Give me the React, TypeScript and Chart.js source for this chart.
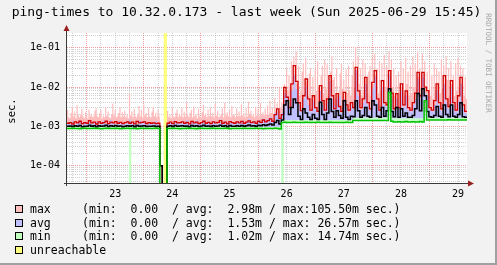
import { useEffect, useRef } from 'react';
import { Chart, registerables } from 'chart.js';

Chart.register(...registerables);

// ---- time axis: hours after 2025-06-22 00:00 ----
const START_HOUR = 15.75;
const END_HOUR = 183.75;
const SLOT_HOURS = 1; // lines and avg/min bands: one value per hour
const FINE_SLOT_HOURS = 0.5; // max band and unreachable flags: one value per half hour

const dayLabels = ['23', '24', '25', '26', '27', '28', '29'];
const dayLabelHours = [36, 60, 84, 108, 132, 156, 180];

const yTickValues = [1e-4, 1e-3, 1e-2, 1e-1];
const yTickLabels = ['1e-04', '1e-03', '1e-02', '1e-01'];
const Y_MIN = 3.63e-5;
const Y_MAX = 0.2366;

const TITLE = 'ping-times to 10.32.0.173 - last week (Sun 2025-06-29 15:45)';
const UNIT = 'sec.';
const WATERMARK = 'RRDTOOL / TOBI OETIKER';

const legendNames = ['max', 'avg', 'min', 'unreachable'];
const legendStats = [
  '(min:  0.00  / avg:  2.98m / max:105.50m sec.)',
  '(min:  0.00  / avg:  1.53m / max: 26.57m sec.)',
  '(min:  0.00  / avg:  1.02m / max: 14.74m sec.)',
  '',
];
const legendColors = ['#FFC0C0', '#C0C0FF', '#C0FFC0', '#FFFF80'];

// ---- max band top, ms, one value per half hour (336 values) ----
const maxAreaMs = [
  2.6, 1.7, 1.6, 2.2, 3.0, 1.8, 2.4, 1.6, 3.4, 2.0, 1.7, 2.0, 2.8, 1.8, 1.6, 2.3, 1.9, 1.6, 2.7, 1.8, 2.1, 1.7, 1.8, 2.5,
  2.9, 1.8, 1.7, 2.2, 2.6, 1.6, 1.9, 1.7, 3.1, 1.8, 2.4, 1.7, 1.6, 2.0, 3.8, 1.9, 2.6, 1.7, 1.8, 2.2, 3.0, 1.7, 2.3, 1.8,
  2.5, 1.7, 2.0, 1.6, 6.8, 1.9, 2.4, 1.7, 2.8, 1.8, 1.7, 2.1, 3.3, 1.8, 2.6, 1.7, 3.6, 1.9, 2.2, 1.7, 2.9, 1.8, 1.7, 2.4,
  3.1, 1.8, 2.2, 1.7, 2.6, 1.8, 0, 0, 0, 0, 0, 0, 2.5, 1.7, 2.0, 1.6, 3.0, 1.8, 1.7, 2.2, 2.7, 1.7, 2.1, 1.8,
  2.9, 1.7, 2.4, 1.8, 4.1, 1.9, 1.7, 2.2, 2.6, 1.7, 3.2, 1.8, 2.0, 1.6, 2.8, 1.8, 1.7, 2.3, 3.5, 1.9, 2.1, 1.7, 2.7, 1.8,
  3.0, 1.8, 2.2, 1.7, 3.8, 1.9, 2.5, 1.7, 1.8, 2.1, 2.9, 1.7, 4.0, 1.9, 2.3, 1.8, 2.6, 1.7, 3.3, 1.9, 2.0, 1.7, 2.8, 1.8,
  2.4, 1.8, 3.6, 1.9, 2.2, 1.7, 2.9, 1.8, 4.2, 2.0, 2.5, 1.8, 2.1, 1.7, 3.1, 1.9, 2.7, 1.8, 3.9, 2.0, 2.3, 1.9, 2.8, 2.0,
  3.4, 2.0, 4.5, 2.2, 3.0, 2.1, 5.2, 2.4, 3.8, 2.6, 9.0, 3.0, 4.0, 2.8, 12, 5.0, 30, 8.0, 20, 9.0, 45, 12, 60, 15,
  80, 12, 35, 6, 8, 25, 40, 7, 55, 14, 6, 22, 30, 5, 18, 6, 28, 8, 45, 10, 6, 20, 35, 7,
  50, 9, 38, 6, 7, 25, 60, 15, 18, 5, 30, 6, 8, 22, 40, 9, 15, 5, 28, 7, 35, 8, 6, 20,
  45, 10, 105, 25, 60, 12, 30, 6, 50, 8, 40, 12, 7, 25, 35, 6, 55, 12, 70, 20, 30, 7, 45, 8,
  40, 10, 65, 9, 35, 8, 80, 22, 50, 10, 30, 6, 20, 5, 25, 7, 45, 9, 30, 6, 55, 12, 25, 6,
  35, 7, 60, 10, 40, 9, 75, 18, 30, 10, 70, 16, 45, 10, 25, 8, 35, 6, 20, 5, 40, 8, 30, 12,
  25, 7, 50, 9, 35, 7, 60, 15, 30, 6, 45, 12, 20, 6, 40, 8, 55, 10, 35, 12, 30, 6, 18, 5,
];

// ---- hourly series, ms (168 values each) ----
const avgAreaMs = [
  1.20, 1.15, 1.35, 1.12, 1.25, 1.40, 1.10, 1.30, 1.18, 1.45, 1.15, 1.25,
  1.30, 1.12, 1.22, 1.38, 1.15, 1.28, 1.45, 1.20, 1.12, 1.35, 1.18, 1.25,
  1.15, 1.32, 1.50, 1.20, 1.28, 1.12, 1.40, 1.22, 1.35, 1.15, 1.30, 1.18,
  1.25, 1.35, 1.20, 0, 0, 0, 1.20, 1.30, 1.15, 1.38, 1.22, 1.28,
  1.35, 1.18, 1.45, 1.15, 1.30, 1.22, 1.40, 1.15, 1.28, 1.48, 1.20, 1.32,
  1.22, 1.38, 1.25, 1.15, 1.50, 1.28, 1.35, 1.18, 1.42, 1.25, 1.20, 1.36,
  1.25, 1.40, 1.22, 1.32, 1.55, 1.28, 1.38, 1.22, 1.45, 1.30, 1.60, 1.40,
  1.55, 1.70, 1.50, 2.2, 2.4, 1.7, 2.2, 7.0, 6.0, 3.0, 8.0, 20,
  9.0, 3.5, 2.5, 5.0, 10, 3.5, 2.4, 4.5, 2.8, 2.2, 8.0, 3.5,
  2.4, 4.0, 14, 5.0, 3.5, 5.0, 6.0, 2.2, 5.0, 3.0, 2.3, 3.5,
  2.8, 26.6, 6.0, 2.6, 4.0, 12, 3.5, 2.5, 9.0, 18, 4.0, 2.4,
  10, 3.5, 3.0, 20, 5.0, 2.5, 5.0, 2.8, 8.0, 3.0, 6.0, 2.6,
  2.4, 3.5, 5.0, 16, 5.0, 18, 7.0, 6.0, 2.6, 2.4, 3.5, 8.0,
  3.5, 2.5, 12, 4.0, 2.8, 10, 3.5, 2.4, 4.5, 12, 3.0, 2.2,
];

const minAreaMs = [
  0.97, 0.97, 0.97, 0.97, 0.97, 0.97, 0.97, 0.97, 0.97, 0.97, 0.97, 0.97,
  0.97, 0.97, 0.97, 0.97, 0.97, 0.97, 0.97, 0.97, 0.97, 0.97, 0.97, 0.97,
  0.97, 0.97, 0.97, 0.97, 0.97, 0.97, 0.97, 0.97, 0.97, 0.97, 0.97, 0.97,
  0.97, 0.97, 0.97, 0, 0, 0, 0.97, 0.97, 0.97, 0.97, 0.97, 0.97,
  0.97, 0.97, 0.97, 0.97, 0.97, 0.97, 0.97, 0.97, 0.97, 0.97, 0.97, 0.97,
  0.97, 0.97, 0.97, 0.97, 0.97, 0.97, 0.97, 0.97, 0.97, 0.97, 0.97, 0.97,
  0.97, 0.97, 0.97, 0.97, 0.97, 0.97, 0.97, 0.97, 0.97, 0.97, 0.97, 0.97,
  0.97, 0.97, 0.97, 0.97, 0.97, 0.97, 1.45, 1.45, 1.45, 1.45, 1.45, 1.45,
  1.45, 1.45, 1.45, 1.45, 1.45, 1.45, 1.45, 1.45, 1.45, 1.45, 1.45, 1.45,
  1.45, 1.45, 1.45, 1.45, 1.45, 1.45, 1.45, 1.45, 1.45, 1.45, 1.45, 1.45,
  1.65, 1.65, 1.65, 1.65, 1.65, 1.65, 1.65, 1.65, 1.65, 1.65, 1.65, 1.65,
  1.65, 1.65, 1.65, 7.6, 1.6, 1.6, 1.6, 1.6, 1.6, 1.6, 1.6, 1.6,
  1.6, 1.6, 1.6, 1.6, 1.6, 1.6, 4.8, 1.65, 1.65, 1.65, 1.65, 1.65,
  1.65, 1.65, 1.65, 1.65, 1.65, 1.65, 1.65, 1.65, 1.65, 1.65, 1.65, 1.65,
];

const maxLineMs = [
  1.20, 1.25, 1.15, 1.30, 1.22, 1.35, 1.18, 1.25, 1.20, 1.40, 1.22, 1.28,
  1.15, 1.30, 1.20, 1.25, 1.35, 1.18, 1.28, 1.22, 1.32, 1.20, 1.26, 1.18,
  1.24, 1.30, 1.20, 1.28, 1.16, 1.34, 1.22, 1.26, 1.30, 1.18, 1.24, 1.20,
  1.22, 1.18, 1.20, 0.10, 0, 0, 1.20, 1.28, 1.18, 1.32, 1.22, 1.25,
  1.30, 1.20, 1.26, 1.16, 1.34, 1.22, 1.28, 1.18, 1.25, 1.35, 1.20, 1.26,
  1.18, 1.30, 1.22, 1.26, 1.40, 1.20, 1.28, 1.16, 1.32, 1.24, 1.20, 1.30,
  1.22, 1.34, 1.20, 1.28, 1.38, 1.25, 1.30, 1.20, 1.35, 1.26, 1.45, 1.30,
  1.40, 1.55, 1.35, 2.0, 2.8, 1.6, 2.0, 9.8, 5.5, 3.0, 12, 35,
  14, 4.0, 2.5, 6.0, 16, 5.0, 2.6, 6.0, 3.0, 2.4, 10.8, 4.5,
  2.6, 5.0, 19.5, 6.0, 2.8, 6.8, 3.2, 2.4, 7.3, 3.5, 2.6, 4.0,
  3.0, 31.6, 8.0, 3.0, 5.0, 17.6, 4.0, 2.8, 13.1, 26, 5.0, 2.6,
  14.5, 4.0, 3.5, 26, 7.0, 2.8, 6.8, 3.0, 12, 3.5, 8.0, 3.0,
  2.6, 4.0, 7.0, 23.6, 6.0, 23.6, 10, 8.1, 3.0, 2.6, 4.5, 12,
  4.0, 2.8, 19.5, 5.0, 3.2, 14.5, 4.0, 2.6, 6.0, 17.6, 3.5, 2.4,
];

const avgLineMs = [
  1.00, 1.02, 0.99, 1.03, 1.00, 1.05, 0.98, 1.01, 1.00, 1.06, 1.00, 1.03,
  0.98, 1.04, 1.00, 1.02, 1.06, 0.99, 1.03, 1.00, 1.05, 1.00, 1.02, 0.98,
  1.01, 1.04, 1.00, 1.03, 0.98, 1.05, 1.00, 1.02, 1.04, 0.99, 1.01, 1.00,
  1.02, 0.99, 1.00, 0.10, 0, 0, 1.00, 1.03, 0.99, 1.05, 1.01, 1.02,
  1.04, 1.00, 1.02, 0.98, 1.05, 1.00, 1.03, 0.99, 1.02, 1.06, 1.00, 1.02,
  0.99, 1.04, 1.00, 1.02, 1.07, 1.00, 1.03, 0.98, 1.05, 1.01, 1.00, 1.04,
  1.00, 1.05, 1.01, 1.03, 1.08, 1.02, 1.04, 1.00, 1.06, 1.03, 1.10, 1.05,
  1.10, 1.15, 1.08, 1.25, 1.40, 1.15, 1.45, 3.5, 4.5, 2.0, 3.0, 5.0,
  4.0, 1.8, 1.5, 2.8, 2.2, 1.7, 1.5, 2.0, 1.6, 1.5, 4.1, 2.0,
  1.5, 2.2, 5.0, 2.4, 1.7, 2.5, 1.9, 1.6, 4.5, 1.7, 1.5, 1.8,
  1.75, 4.5, 2.5, 1.7, 1.9, 3.0, 1.8, 1.7, 4.5, 3.5, 1.8, 1.7,
  3.0, 1.8, 2.5, 9.1, 2.4, 1.75, 3.0, 1.7, 2.8, 1.8, 2.2, 1.7,
  1.7, 1.9, 2.8, 6.8, 2.5, 9.0, 6.0, 2.4, 1.75, 1.7, 1.9, 3.2,
  1.8, 1.7, 3.5, 2.0, 1.75, 3.5, 1.8, 1.7, 2.0, 4.0, 1.75, 1.7,
];

const minLineMs = [
  0.88, 0.88, 0.89, 0.88, 0.88, 0.87, 0.88, 0.89, 0.88, 0.88, 0.88, 0.89,
  0.88, 0.88, 0.87, 0.88, 0.89, 0.88, 0.88, 0.88, 0.89, 0.88, 0.87, 0.88,
  0.88, 0.89, 0.88, 0.88, 0.88, 0.87, 0.88, 0.89, 0.88, 0.88, 0.88, 0.88,
  0.88, 0.89, 0.88, 0, 0, 0, 0.88, 0.88, 0.89, 0.88, 0.88, 0.87,
  0.88, 0.88, 0.89, 0.88, 0.88, 0.88, 0.87, 0.88, 0.89, 0.88, 0.88, 0.88,
  0.88, 0.89, 0.88, 0.88, 0.88, 0.88, 0.89, 0.88, 0.87, 0.88, 0.88, 0.88,
  0.88, 0.88, 0.89, 0.88, 0.88, 0.88, 0.88, 0.89, 0.88, 0.88, 0.87, 0.88,
  0.88, 0.88, 0.88, 0.89, 0.88, 0.86, 1.25, 1.28, 1.25, 1.26, 1.25, 1.27,
  1.25, 1.26, 1.25, 1.25, 1.27, 1.25, 1.26, 1.25, 1.25, 1.28, 1.26, 1.25,
  1.25, 1.26, 1.27, 1.25, 1.25, 1.26, 1.25, 1.26, 1.25, 1.27, 1.25, 1.26,
  1.40, 1.41, 1.40, 1.42, 1.40, 1.40, 1.41, 1.40, 1.42, 1.40, 1.41, 1.40,
  1.40, 1.41, 1.40, 7.3, 1.35, 1.30, 1.30, 1.31, 1.30, 1.30, 1.32, 1.30,
  1.30, 1.31, 1.30, 1.30, 1.32, 1.30, 4.5, 1.45, 1.45, 1.46, 1.45, 1.45,
  1.45, 1.46, 1.45, 1.45, 1.47, 1.45, 1.45, 1.46, 1.45, 1.45, 1.46, 1.45,
];

// hourly slots where the min band reached 0; half-hour slots that were unreachable
const minZeroSlots = [26, 90];
const unreachableSlots = [81, 82, 83];

// ---- helpers to build the Chart.js tables ----
const ZERO_ON_LOG = 1e-9; // 0 s drawn at the bottom of the log axis
const FULL_HEIGHT = 1; // 1 s: above the top of the axis
const toSec = (ms: number) => (ms > 0 ? ms / 1000 : ZERO_ON_LOG);

function slotSeries(ms: number[], slot: number) {
  const pts = ms.map((v, i) => ({ x: START_HOUR + i * slot, y: toSec(v) }));
  pts.push({ x: START_HOUR + ms.length * slot, y: toSec(ms[ms.length - 1]) });
  return pts;
}

function flagSeries(slots: number[], slot: number) {
  const pts: { x: number; y: number | null }[] = [];
  slots.forEach((s, k) => {
    if (k > 0 && slots[k - 1] !== s - 1) {
      pts.push({ x: START_HOUR + (slots[k - 1] + 1) * slot, y: FULL_HEIGHT });
      pts.push({ x: START_HOUR + (slots[k - 1] + 1) * slot, y: null });
    }
    pts.push({ x: START_HOUR + s * slot, y: FULL_HEIGHT });
  });
  if (slots.length) pts.push({ x: START_HOUR + (slots[slots.length - 1] + 1) * slot, y: FULL_HEIGHT });
  return pts;
}

const minLowMs = minLineMs.map((v, i) => (minZeroSlots.includes(i) ? 0 : v));

const FONT = '"DejaVu Sans Mono", monospace';
const MAJOR_GRID = 'rgba(230, 60, 60, 0.5)';
const MINOR_GRID = 'rgba(170, 170, 170, 0.55)';
const AXIS = '#3a3a3a';
const ARROW = '#9a1e1e';

const rrdPlugin = {
  id: 'rrdLook',
  beforeDraw(chart: any) {
    const { ctx, width, height, chartArea: a } = chart;
    ctx.save();
    ctx.fillStyle = '#F2F2F2';
    ctx.fillRect(0, 0, width, height);
    ctx.fillStyle = '#A0A0A0';
    ctx.fillRect(width - 2, 0, 2, height);
    ctx.fillRect(0, height - 2, width, 2);
    ctx.fillStyle = '#FFFFFF';
    ctx.fillRect(a.left, a.top, a.right - a.left, a.bottom - a.top);
    ctx.restore();
  },
  afterDraw(chart: any) {
    const { ctx, chartArea: a, width } = chart;
    ctx.save();
    // axes
    ctx.strokeStyle = AXIS;
    ctx.lineWidth = 1;
    ctx.beginPath();
    ctx.moveTo(a.left - 0.5, a.bottom + 3);
    ctx.lineTo(a.left - 0.5, a.top - 4);
    ctx.moveTo(a.left - 3, a.bottom + 0.5);
    ctx.lineTo(a.right + 3, a.bottom + 0.5);
    ctx.stroke();
    ctx.fillStyle = ARROW;
    ctx.beginPath();
    ctx.moveTo(a.left - 0.5, a.top - 8);
    ctx.lineTo(a.left - 3.5, a.top - 2);
    ctx.lineTo(a.left + 2.5, a.top - 2);
    ctx.closePath();
    ctx.fill();
    ctx.beginPath();
    ctx.moveTo(a.right + 7, a.bottom + 0.5);
    ctx.lineTo(a.right + 1, a.bottom - 2.5);
    ctx.lineTo(a.right + 1, a.bottom + 3.5);
    ctx.closePath();
    ctx.fill();

    // title
    ctx.fillStyle = '#000';
    ctx.textBaseline = 'middle';
    ctx.textAlign = 'center';
    ctx.font = `13px ${FONT}`;
    ctx.fillText(TITLE, 246.5, 13);

    // unit
    ctx.save();
    ctx.translate(12, 111);
    ctx.rotate(-Math.PI / 2);
    ctx.font = `10.5px ${FONT}`;
    ctx.fillText(UNIT, 0, 0);
    ctx.restore();

    // watermark
    ctx.save();
    ctx.translate(width - 9, 63);
    ctx.rotate(Math.PI / 2);
    ctx.fillStyle = '#A8A8A8';
    ctx.font = `7.5px ${FONT}`;
    ctx.fillText(WATERMARK, 0, 0);
    ctx.restore();

    // legend
    ctx.textAlign = 'left';
    ctx.font = `11.5px ${FONT}`;
    const rows = [210, 223.7, 237.4, 251];
    legendNames.forEach((name, k) => {
      const y = rows[k];
      ctx.fillStyle = legendColors[k];
      ctx.fillRect(15, Math.round(y) - 5, 8, 8);
      ctx.strokeStyle = '#000';
      ctx.lineWidth = 1;
      ctx.strokeRect(15.5, Math.round(y) - 4.5, 7, 7);
      ctx.fillStyle = '#000';
      ctx.fillText(name, 30, y);
      if (legendStats[k]) ctx.fillText(legendStats[k], 82, y);
    });
    ctx.restore();
  },
};

export default function App() {
  const ref = useRef<HTMLCanvasElement | null>(null);

  useEffect(() => {
    document.body.style.margin = '0';
    const canvas = ref.current;
    if (!canvas) return;

    const xGridHours: number[] = [];
    for (let h = 18; h < END_HOUR; h += 6) xGridHours.push(h);
    const yGridValues: number[] = [];
    for (let e = -5; e <= -1; e++) {
      for (let m = 1; m <= 9; m++) {
        const v = m * Math.pow(10, e);
        if (v >= Y_MIN && v <= Y_MAX) yGridValues.push(v);
      }
    }
    const isDecade = (v: number) => yTickValues.some((t) => Math.abs(t - v) / t < 1e-6);

    const line = (data: any, color: string, width: number, order: number) => ({
      data,
      borderColor: color,
      borderWidth: width,
      backgroundColor: 'transparent',
      fill: false,
      stepped: true,
      pointRadius: 0,
      order,
    });
    const area = (data: any, color: string, target: any, order: number) => ({
      data,
      borderColor: 'transparent',
      borderWidth: 0,
      backgroundColor: color,
      fill: target,
      stepped: true,
      pointRadius: 0,
      order,
    });

    const chart = new Chart(canvas, {
      type: 'line',
      data: {
        datasets: [
          line(slotSeries(maxLineMs, SLOT_HOURS), '#D00000', 1.3, 3), // 0 max line
          line(slotSeries(avgLineMs, SLOT_HOURS), '#000000', 1.5, 2), // 1 avg line
          line(slotSeries(minLineMs, SLOT_HOURS), '#00C000', 1.5, 1), // 2 min line
          area(slotSeries(maxAreaMs, FINE_SLOT_HOURS), '#FFBCBC', 2, 10), // 3 max band
          area(slotSeries(avgAreaMs, SLOT_HOURS), '#C0C0FF', 2, 9), // 4 avg band
          area(slotSeries(minAreaMs, SLOT_HOURS), '#C4FFC4', 6, 8), // 5 min band
          area(slotSeries(minLowMs, SLOT_HOURS), 'transparent', false, 7), // 6 min band floor
          area(flagSeries(unreachableSlots, FINE_SLOT_HOURS), '#FFFF80', 'start', 11), // 7 unreachable
        ] as any,
      },
      options: {
        animation: false,
        responsive: false,
        devicePixelRatio: 1,
        layout: { padding: { top: 33, right: 30, bottom: 0, left: 0 } },
        plugins: {
          legend: { display: false },
          tooltip: { enabled: false },
          title: { display: false },
        },
        elements: { point: { radius: 0 }, line: { tension: 0 } },
        scales: {
          x: {
            type: 'linear',
            min: START_HOUR,
            max: END_HOUR,
            afterFit: (s: any) => {
              s.height = 82;
            },
            afterBuildTicks: (s: any) => {
              s.ticks = xGridHours.map((v) => ({ value: v }));
            },
            grid: {
              drawTicks: false,
              lineWidth: 1,
              color: (c: any) => (c.tick && c.tick.value % 24 === 0 ? MAJOR_GRID : MINOR_GRID),
            },
            border: { display: false, dash: [1, 1] },
            ticks: {
              autoSkip: false,
              maxRotation: 0,
              padding: 5,
              color: '#000',
              font: { family: 'DejaVu Sans Mono', size: 10 },
              callback: (v: any) => {
                const k = dayLabelHours.indexOf(Number(v));
                return k >= 0 ? dayLabels[k] : '';
              },
            },
          },
          y: {
            type: 'logarithmic',
            min: Y_MIN,
            max: Y_MAX,
            afterFit: (s: any) => {
              s.width = 67;
            },
            afterBuildTicks: (s: any) => {
              s.ticks = yGridValues.map((v) => ({ value: v, major: isDecade(v) }));
            },
            grid: {
              drawTicks: false,
              lineWidth: 1,
              color: (c: any) => (c.tick && isDecade(c.tick.value) ? MAJOR_GRID : MINOR_GRID),
            },
            border: { display: false, dash: [1, 1] },
            ticks: {
              autoSkip: false,
              padding: 7,
              color: '#000',
              font: { family: 'DejaVu Sans Mono', size: 10 },
              callback: (v: any) => {
                const k = yTickValues.findIndex((t) => Math.abs(t - Number(v)) / t < 1e-6);
                return k >= 0 ? yTickLabels[k] : '';
              },
            },
          },
        },
      } as any,
      plugins: [rrdPlugin],
    });

    return () => chart.destroy();
  }, []);

  return (
    <div style={{ width: 497, height: 265 }}>
      <canvas ref={ref} width={497} height={265} style={{ display: 'block' }} />
    </div>
  );
}
